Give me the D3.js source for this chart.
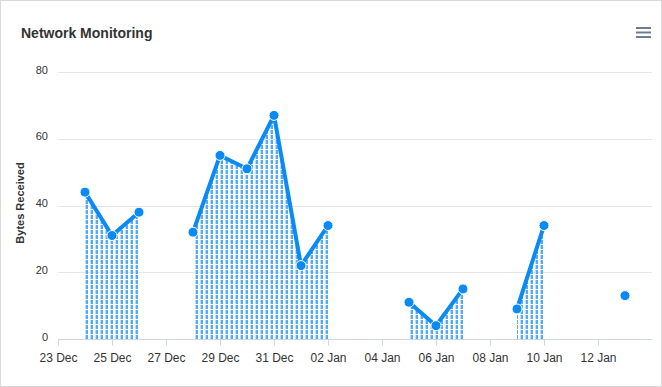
<!DOCTYPE html>
<html>
<head>
<meta charset="utf-8">
<script src="https://cdn.jsdelivr.net/npm/d3@7"></script>
<style>
  html, body { margin: 0; padding: 0; background: #fff; }
  svg { display: block; font-family: "Liberation Sans", Arial, Helvetica, sans-serif; }
</style>
</head>
<body>
<svg id="chart" width="662" height="387"></svg>
<script>
// ---- data ----
const dates = ["2023-12-24","2023-12-25","2023-12-26","2023-12-27","2023-12-28","2023-12-29","2023-12-30","2023-12-31",
               "2024-01-01","2024-01-02","2024-01-03","2024-01-04","2024-01-05","2024-01-06","2024-01-07","2024-01-08",
               "2024-01-09","2024-01-10","2024-01-11","2024-01-12","2024-01-13"];
const bytesReceived = [44, 31, 38, null, 32, 55, 51, 67, 22, 34, null, null, 11, 4, 15, null, 9, 34, null, null, 13];
const xTickDates = ["2023-12-23","2023-12-25","2023-12-27","2023-12-29","2023-12-31","2024-01-02","2024-01-04",
                    "2024-01-06","2024-01-08","2024-01-10","2024-01-12"];
const yTicks = [0, 20, 40, 60, 80];
const xDomain = ["2023-12-23", "2024-01-14"];
const yDomain = [0, 80];
const chartTitle = "Network Monitoring";
const yTitle = "Bytes Received";

// ---- setup ----
const parse = d3.utcParse("%Y-%m-%d");
const fmt = d3.utcFormat("%d %b");
const data = dates.map((d, i) => ({ date: parse(d), value: bytesReceived[i] }));

const W = 662, H = 387;
const plot = { left: 58, right: 652, top: 72, bottom: 339 };

const svg = d3.select("#chart");

// background + border
svg.append("rect").attr("x", 0.5).attr("y", 0.5).attr("width", W - 1).attr("height", H - 1)
  .attr("fill", "#fff").attr("stroke", "#d9d9d9").attr("stroke-width", 1);

const x = d3.scaleUtc().domain(xDomain.map(parse)).range([plot.left, plot.right]);
const y = d3.scaleLinear().domain(yDomain).range([plot.bottom, plot.top]);

// pattern
const defs = svg.append("defs");
const pat = defs.append("pattern").attr("id", "stripes").attr("patternUnits", "userSpaceOnUse")
  .attr("width", 5).attr("height", 5);
pat.append("rect").attr("x", 0).attr("y", 0).attr("width", 1).attr("height", 4).attr("fill", "#bcdcfc");
pat.append("rect").attr("x", 1).attr("y", 0).attr("width", 2).attr("height", 4).attr("fill", "#55abfa");

// gridlines
svg.append("g").selectAll("line").data(yTicks.filter(v => v > 0)).join("line")
  .attr("x1", plot.left).attr("x2", plot.right)
  .attr("y1", d => Math.round(y(d)) + 0.5).attr("y2", d => Math.round(y(d)) + 0.5)
  .attr("stroke", "#e6e6e6").attr("stroke-width", 1);

// y labels
svg.append("g").selectAll("text").data(yTicks).join("text")
  .attr("x", 48).attr("y", d => y(d) + 1.5)
  .attr("text-anchor", "end").attr("font-size", 11).attr("fill", "#333")
  .text(d => d);

// x axis
const xAxis = d3.axisBottom(x).tickValues(xTickDates.map(parse)).tickFormat(fmt).tickSize(6).tickPadding(8);
const gx = svg.append("g").attr("transform", `translate(0,${plot.bottom + 0.5})`).call(xAxis);
gx.select(".domain").attr("stroke", "#ccd6eb").attr("d", `M${plot.left},0H${plot.right}`);
gx.selectAll(".tick line").attr("stroke", "#ccd6eb");
gx.selectAll(".tick text").attr("font-size", 12).attr("fill", "#333")
  .attr("font-family", "'Liberation Sans', Arial, sans-serif");

// area
const area = d3.area().defined(d => d.value !== null)
  .x(d => x(d.date)).y0(y(0)).y1(d => y(d.value));
svg.append("path").datum(data).attr("d", area).attr("fill", "url(#stripes)");

// line
const line = d3.line().defined(d => d.value !== null)
  .x(d => x(d.date)).y(d => y(d.value));
svg.append("path").datum(data).attr("d", line).attr("fill", "none")
  .attr("stroke", "#0a8af5").attr("stroke-width", 4).attr("stroke-linejoin", "round").attr("stroke-linecap", "round");

// markers
svg.append("g").selectAll("circle").data(data.filter(d => d.value !== null)).join("circle")
  .attr("cx", d => x(d.date)).attr("cy", d => y(d.value)).attr("r", 5)
  .attr("fill", "#0a8af5").attr("stroke", "#fff").attr("stroke-width", 1);

// title
svg.append("text").attr("x", 21).attr("y", 38).attr("font-size", 14).attr("font-weight", "bold")
  .attr("fill", "#333").text(chartTitle);

// y title
svg.append("text").attr("transform", `translate(24,203) rotate(-90)`)
  .attr("text-anchor", "middle").attr("font-size", 11).attr("font-weight", "bold").attr("fill", "#333")
  .text(yTitle);

// menu icon
svg.append("g").selectAll("line").data([28, 32.5, 37]).join("line")
  .attr("x1", 636).attr("x2", 651).attr("y1", d => d).attr("y2", d => d)
  .attr("stroke", "#6b7d93").attr("stroke-width", 2);
</script>
</body>
</html>
